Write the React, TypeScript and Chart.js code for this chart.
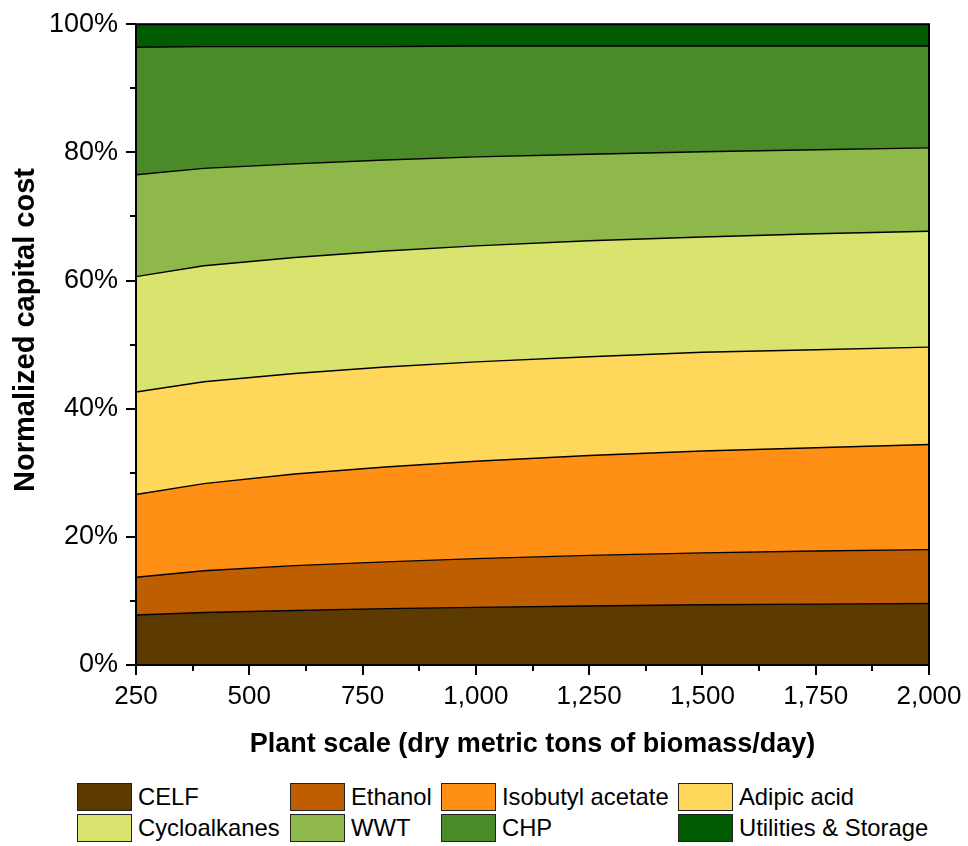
import React, { useEffect, useRef } from 'react';
import { Chart, registerables } from 'chart.js';

Chart.register(...registerables);

// ---- data ----
const plantScale = [250, 400, 600, 800, 1000, 1250, 1500, 1750, 2000];
const celf = [7.8, 8.2, 8.5, 8.8, 9.0, 9.2, 9.4, 9.5, 9.6];
const ethanol = [5.9, 6.5, 7.0, 7.3, 7.6, 7.9, 8.1, 8.3, 8.4];
const isobutylAcetate = [12.9, 13.6, 14.3, 14.8, 15.2, 15.6, 15.9, 16.1, 16.4];
const adipicAcid = [16.0, 15.9, 15.7, 15.6, 15.5, 15.4, 15.4, 15.3, 15.2];
const cycloalkanes = [18.0, 18.1, 18.1, 18.1, 18.1, 18.1, 18.0, 18.1, 18.1];
const wwt = [15.9, 15.2, 14.6, 14.2, 13.9, 13.5, 13.3, 13.1, 13.0];
const chp = [19.9, 19.0, 18.3, 17.7, 17.3, 16.9, 16.5, 16.2, 15.9];
const utilities = [3.6, 3.5, 3.5, 3.5, 3.4, 3.4, 3.4, 3.4, 3.4];

const seriesNames = ['CELF', 'Ethanol', 'Isobutyl acetate', 'Adipic acid', 'Cycloalkanes', 'WWT', 'CHP', 'Utilities & Storage'];
const seriesValues = [celf, ethanol, isobutylAcetate, adipicAcid, cycloalkanes, wwt, chp, utilities];
const seriesColors = ['#5c3a00', '#bf5e00', '#ff9015', '#ffd75a', '#d9e46e', '#8fb84a', '#4a8a28', '#005a00'];

const xMin = 250;
const xMax = 2000;
const xMinorStep = 125;
const xMajorStep = 250;
const yMax = 100;
const yMinorStep = 10;
const yMajorStep = 20;

const xTitle = 'Plant scale (dry metric tons of biomass/day)';
const yTitle = 'Normalized capital cost';

const legendOrder = [0, 1, 2, 3, 4, 5, 6, 7];

const FONT = "'Liberation Sans', Arial, sans-serif";

const ticksPlugin = {
  id: 'customTicksAndBorder',
  afterDraw(chart: any) {
    const { ctx, chartArea: a, scales } = chart;
    const x = scales.x;
    const y = scales.y;
    ctx.save();
    ctx.strokeStyle = '#000';
    ctx.lineWidth = 2;
    x.ticks.forEach((t: any) => {
      const px = Math.round(x.getPixelForValue(t.value));
      const major = (t.value - xMin) % xMajorStep === 0;
      ctx.beginPath();
      ctx.moveTo(px, a.bottom);
      ctx.lineTo(px, a.bottom + (major ? 10 : 6));
      ctx.stroke();
    });
    y.ticks.forEach((t: any) => {
      const py = Math.round(y.getPixelForValue(t.value));
      const major = t.value % yMajorStep === 0;
      ctx.beginPath();
      ctx.moveTo(a.left, py);
      ctx.lineTo(a.left - (major ? 10 : 6), py);
      ctx.stroke();
    });
    ctx.strokeRect(a.left, a.top, a.right - a.left, a.bottom - a.top);
    // y-axis title
    ctx.translate(26, 330);
    ctx.rotate(-Math.PI / 2);
    ctx.fillStyle = '#000';
    ctx.font = `bold 29px ${FONT}`;
    ctx.textAlign = 'center';
    ctx.textBaseline = 'middle';
    ctx.fillText(yTitle, 0, 0);
    ctx.restore();
  },
};

export default function App() {
  const canvasRef = useRef<HTMLCanvasElement | null>(null);

  useEffect(() => {
    if (!canvasRef.current) return;
    const datasets = seriesValues.map((vals, i) => ({
      label: seriesNames[i],
      data: plantScale.map((x, j) => ({ x, y: vals[j] })),
      backgroundColor: seriesColors[i],
      borderColor: '#000',
      borderWidth: 1.4,
      pointRadius: 0,
      tension: 0,
      fill: i === 0 ? 'origin' : '-1',
    }));
    const chart = new Chart(canvasRef.current, {
      type: 'line',
      data: { datasets },
      plugins: [ticksPlugin],
      options: {
        animation: false,
        responsive: false,
        maintainAspectRatio: false,
        layout: { padding: { top: 22, right: 39, left: 0, bottom: 0 } },
        plugins: {
          legend: { display: false },
          tooltip: { enabled: false },
        },
        scales: {
          x: {
            type: 'linear',
            min: xMin,
            max: xMax,
            border: { display: false },
            grid: { drawOnChartArea: false, drawTicks: true, tickLength: 10, color: 'rgba(0,0,0,0)' },
            ticks: {
              stepSize: xMinorStep,
              autoSkip: false,
              maxRotation: 0,
              padding: 6,
              color: '#000',
              font: { family: FONT, size: 26 },
              callback: (v: any) => ((v - xMin) % xMajorStep === 0 ? Number(v).toLocaleString('en-US') : ''),
            },
            title: {
              display: true,
              text: xTitle,
              color: '#000',
              font: { family: FONT, size: 27, weight: 'bold' },
              padding: { top: 0, bottom: 9 },
            },
            afterFit: (s: any) => { s.height = 105; },
          },
          y: {
            type: 'linear',
            stacked: true,
            min: 0,
            max: yMax,
            border: { display: false },
            grid: { drawOnChartArea: false, drawTicks: true, tickLength: 10, color: 'rgba(0,0,0,0)' },
            ticks: {
              stepSize: yMinorStep,
              autoSkip: false,
              padding: 8,
              color: '#000',
              font: { family: FONT, size: 27 },
              callback: (v: any) => (v % yMajorStep === 0 ? v + '%' : ''),
            },
            afterFit: (s: any) => { s.width = 136; },
          },
        },
      },
    } as any);
    return () => chart.destroy();
  }, []);

  const colStarts = [77, 290, 441, 678];
  const rowTops = [783, 814];

  return (
    <div style={{ position: 'absolute', left: 0, top: 0, width: 968, height: 846, background: '#fff', fontFamily: FONT }}>
      <canvas ref={canvasRef} width={968} height={770} style={{ position: 'absolute', left: 0, top: 0, width: 968, height: 770 }} />
      {legendOrder.map((idx, k) => {
        const col = k % 4;
        const row = Math.floor(k / 4);
        return (
          <div
            key={idx}
            style={{
              position: 'absolute',
              left: colStarts[col],
              top: rowTops[row],
              height: 28,
              display: 'flex',
              alignItems: 'center',
              whiteSpace: 'nowrap',
            }}
          >
            <div style={{ width: 53, height: 26, background: seriesColors[idx], border: '1px solid #222', boxSizing: 'content-box' }} />
            <span style={{ marginLeft: 6, fontSize: 23.8, color: '#000', lineHeight: '28px' }}>{seriesNames[idx]}</span>
          </div>
        );
      })}
    </div>
  );
}
